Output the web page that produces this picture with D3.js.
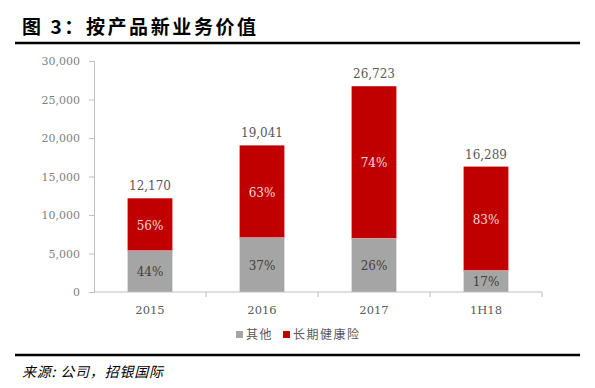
<!DOCTYPE html>
<html>
<head>
<meta charset="utf-8">
<script src="https://cdn.jsdelivr.net/npm/d3@7"></script>
<style>
  body { margin: 0; background: #fff; }
</style>
</head>
<body>
<div id="chart"></div>
<script>
var categories = ["2015", "2016", "2017", "1H18"];
var otherValues = [5355, 7045, 6948, 2769];
var healthValues = [6815, 11996, 19775, 13520];
var totalLabels = ["12,170", "19,041", "26,723", "16,289"];
var otherPct = ["44%", "37%", "26%", "17%"];
var healthPct = ["56%", "63%", "74%", "83%"];
var yTicks = [0, 5000, 10000, 15000, 20000, 25000, 30000];
var seriesNames = ["其他", "长期健康险"];

var width = 595, height = 388;
var margin = { top: 61, left: 94, right: 53, bottom: 96 };
var red = "#c00000", grey = "#a5a5a5";
var cjk = "'Noto Sans CJK SC', sans-serif";
var serif = "'DejaVu Serif', serif";

var svg = d3.select("#chart").append("svg")
    .attr("width", width)
    .attr("height", height);

// title and rules
svg.append("text")
    .attr("x", 22).attr("y", 34)
    .attr("font-family", cjk)
    .attr("font-weight", "bold")
    .attr("font-size", 19)
    .attr("letter-spacing", 2.6)
    .attr("fill", "#000")
    .text("图 3：按产品新业务价值");

svg.append("line")
    .attr("x1", 15).attr("x2", 580).attr("y1", 43).attr("y2", 43)
    .attr("stroke", "#000").attr("stroke-width", 2.5);
svg.append("line")
    .attr("x1", 15).attr("x2", 580).attr("y1", 355).attr("y2", 355)
    .attr("stroke", "#000").attr("stroke-width", 2.5);

svg.append("text")
    .attr("x", 22).attr("y", 377)
    .attr("font-family", cjk)
    .attr("font-style", "italic")
    .attr("font-size", 14)
    .attr("letter-spacing", 0.8)
    .attr("fill", "#000")
    .text("来源: 公司，招银国际");

var x = d3.scaleBand()
    .domain(categories)
    .range([margin.left, width - margin.right])
    .paddingInner(0.6)
    .paddingOuter(0.3);

var y = d3.scaleLinear()
    .domain([0, 30000])
    .range([height - margin.bottom, margin.top]);

// axes
var yAxis = svg.append("g")
    .attr("transform", "translate(" + margin.left + ",0)")
    .call(d3.axisLeft(y).tickValues(yTicks).tickSize(5).tickPadding(9)
        .tickFormat(d3.format(",")));
yAxis.select(".domain").attr("stroke", "#bfbfbf");
yAxis.selectAll(".tick line").attr("stroke", "#bfbfbf");
yAxis.selectAll("text")
    .attr("font-family", serif)
    .attr("font-size", 11)
    .attr("fill", "#7f7f7f");

// bars
var stack = categories.map(function (c, i) {
    return { cat: c, other: otherValues[i], health: healthValues[i], i: i };
});

var g = svg.append("g");
g.selectAll(".other").data(stack).enter().append("rect")
    .attr("x", function (d) { return x(d.cat); })
    .attr("width", x.bandwidth())
    .attr("y", function (d) { return y(d.other); })
    .attr("height", function (d) { return y(0) - y(d.other); })
    .attr("fill", grey);

g.selectAll(".health").data(stack).enter().append("rect")
    .attr("x", function (d) { return x(d.cat); })
    .attr("width", x.bandwidth())
    .attr("y", function (d) { return y(d.other + d.health); })
    .attr("height", function (d) { return y(d.other) - y(d.other + d.health); })
    .attr("fill", red);

// divider between segments
g.selectAll(".sep").data(stack).enter().append("line")
    .attr("x1", function (d) { return x(d.cat); })
    .attr("x2", function (d) { return x(d.cat) + x.bandwidth(); })
    .attr("y1", function (d) { return y(d.other); })
    .attr("y2", function (d) { return y(d.other); })
    .attr("stroke", "#d9a0a0").attr("stroke-width", 1);

// x axis
var xAxis = svg.append("g")
    .attr("transform", "translate(0," + y(0) + ")");
xAxis.append("line")
    .attr("x1", margin.left).attr("x2", width - margin.right)
    .attr("stroke", "#bfbfbf");
var step = x.step();
var bounds = categories.map(function (c) { return x(c) + x.bandwidth() / 2 + step / 2; });
xAxis.selectAll(".xt").data(bounds).enter().append("line")
    .attr("x1", function (d) { return d; }).attr("x2", function (d) { return d; })
    .attr("y1", 0).attr("y2", 5)
    .attr("stroke", "#bfbfbf");
xAxis.selectAll(".xl").data(categories).enter().append("text")
    .attr("x", function (d) { return x(d) + x.bandwidth() / 2; })
    .attr("y", 22)
    .attr("text-anchor", "middle")
    .attr("font-family", serif)
    .attr("font-size", 11.5)
    .attr("fill", "#595959")
    .text(function (d) { return d; });

// labels
g.selectAll(".tot").data(stack).enter().append("text")
    .attr("x", function (d) { return x(d.cat) + x.bandwidth() / 2; })
    .attr("y", function (d) { return y(d.other + d.health) - 8; })
    .attr("text-anchor", "middle")
    .attr("font-family", serif)
    .attr("font-size", 12)
    .attr("fill", "#595959")
    .text(function (d) { return totalLabels[d.i]; });

g.selectAll(".hp").data(stack).enter().append("text")
    .attr("x", function (d) { return x(d.cat) + x.bandwidth() / 2; })
    .attr("y", function (d) { return (y(d.other) + y(d.other + d.health)) / 2 + 5; })
    .attr("text-anchor", "middle")
    .attr("font-family", serif)
    .attr("font-size", 12)
    .attr("fill", "#f4dada")
    .text(function (d) { return healthPct[d.i]; });

g.selectAll(".op").data(stack).enter().append("text")
    .attr("x", function (d) { return x(d.cat) + x.bandwidth() / 2; })
    .attr("y", function (d) { return (y(0) + y(d.other)) / 2 + 5; })
    .attr("text-anchor", "middle")
    .attr("font-family", serif)
    .attr("font-size", 12)
    .attr("fill", "#404040")
    .text(function (d) { return otherPct[d.i]; });

// legend
var legend = svg.append("g").attr("transform", "translate(236,335)");
var legendX = [0, 47];
seriesNames.forEach(function (name, i) {
    var lg = legend.append("g").attr("transform", "translate(" + legendX[i] + ",0)");
    lg.append("rect")
        .attr("x", 0).attr("y", -4).attr("width", 7).attr("height", 7)
        .attr("fill", i === 0 ? grey : red);
    lg.append("text")
        .attr("x", 10).attr("y", 4)
        .attr("font-family", cjk)
        .attr("font-size", 12)
        .attr("letter-spacing", 1.5)
        .attr("fill", "#595959")
        .text(name);
});
</script>
</body>
</html>
